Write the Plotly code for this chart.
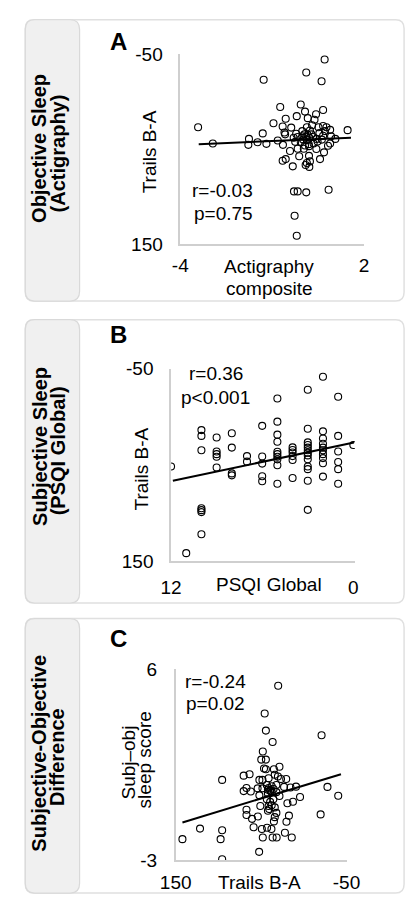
import plotly.graph_objects as go

W, H = 419, 909

# ---------------- DATA ----------------
# Panel A: Actigraphy composite vs Trails B-A
a_x = [0.71, 0.11, 0.61, -1.28, -0.07, -0.74, 0.07, 0.66, -0.20, 0.43, -0.56, 0.16, 0.38, -0.96, 0.30,
       -0.66, -0.38, 0.13, 0.51, 0.66, 0.77, 0.89, -3.42, 1.46, -1.31, -0.60, -0.02, 0.23, 0.54, 0.72,
       -0.58, -0.22, 0.05, 0.16, 0.28, -0.17, -0.02, 0.11, 0.21, 0.33, -0.30, 0.01, 0.13, 0.45, 0.66,
       0.92, 1.06, -0.82, -1.76, -1.48, -2.94, -1.78, -1.19, -0.65, 0.19, 0.48, 0.82, 0.89, -0.17, 0.03,
       0.44, -0.42, 0.69, 0.20, -0.12, 0.20, -0.66, -0.56, 0.56, 0.13, 0.23, -0.33, 0.21, 0.09, -0.29,
       -0.17, 0.11, 0.84, -0.27, -0.20, -0.07, -0.25, 0.35, 0.07, 0.62]
a_y = [-44.2, -30.5, -21.3, -23.0, 3.0, 5.7, 10.5, 8.8, 15.3, 13.3, 18.0, 17.4, 19.1, 22.8, 24.9,
       26.2, 27.3, 26.9, 26.9, 25.6, 26.9, 29.7, 26.9, 30.0, 33.4, 32.4, 31.0, 30.3, 33.1, 31.0,
       34.4, 33.8, 34.4, 35.1, 34.4, 37.2, 36.5, 37.2, 37.9, 37.2, 37.9, 39.9, 40.6, 39.2, 35.8,
       36.5, 39.2, 40.9, 39.2, 42.7, 44.0, 45.4, 44.4, 45.4, 44.7, 42.0, 46.4, 44.0, 49.5, 49.5,
       49.8, 51.9, 53.3, 46.8, 57.4, 57.0, 62.1, 60.4, 60.4, 64.5, 62.8, 68.0, 68.6, 66.6, 94.3,
       94.3, 95.3, 92.6, 119.9, 140.8, 42.3, 42.3, 44.0, 46.1, 39.9]
a_fit_x = [-3.40, 1.57]
a_fit_y = [44.7, 37.9]

# Panel B: PSQI Global vs Trails B-A
b_x = [12, 11,
       10, 10, 10, 10, 10, 10, 10,
       9, 9, 9, 9, 9,
       8, 8, 8, 8,
       7, 7,
       6, 6, 6, 6, 6,
       5, 5, 5, 5, 5, 5, 5, 5, 5, 5,
       4, 4, 4, 4, 4, 4,
       3, 3, 3, 3, 3, 3, 3, 3, 3, 3, 3, 3, 3,
       2, 2, 2, 2, 2, 2, 2, 2, 2, 2,
       1, 1, 1, 1, 1, 1,
       0]
b_y = [51.9, 141.9,
       14.0, 20.0, 34.9, 95.2, 97.2, 99.2, 122.2,
       21.7, 36.3, 39.0, 41.7, 52.9,
       17.3, 32.2, 59.0, 61.0,
       41.0, 46.8,
       9.6, 41.4, 48.8, 62.0, 67.1,
       -18.9, 5.2, 18.7, 26.1, 36.5, 39.0, 41.7, 44.4, 50.5, 69.8,
       31.9, 34.6, 37.3, 41.0, 45.1, 63.7,
       -28.0, 12.6, 26.8, 29.5, 32.2, 34.9, 37.6, 40.3, 44.4, 51.9, 54.6, 66.7, 96.9,
       -41.5, 15.3, 22.8, 28.2, 32.2, 34.9, 39.0, 43.1, 48.5, 62.3,
       -20.6, 20.0, 36.3, 47.1, 54.6, 69.8,
       29.5]
b_fit_x = [11.88, -0.04]
b_fit_y = [66.7, 26.8]

# Panel C: Trails B-A vs Subj-obj sleep score
c_x = [30.0, 45.8, 44.4, 36.5, -20.8, 48.0, 49.8, 44.4, 46.6, 44.4, 35.0, 28.5, 95.6, 70.4, 63.5,
       52.0, 48.4, 41.2, 34.0, 30.3, 26.7, 20.6, 67.1, 70.4, 62.1, 54.1, 48.4, 43.3, 41.2, 37.6,
       42.0, 39.4, 35.4, 32.1, 23.1, 15.6, 9.1, -27.7, -40.3, 52.0, 42.0, 37.6, 28.5, 32.1, 4.4,
       19.2, 12.7, 50.9, 39.4, 41.2, 37.6, 40.5, 34.0, 42.0, 67.1, 67.1, 60.6, 53.8, 32.1, 34.0,
       35.0, 17.4, 20.3, -19.7, 58.8, 49.1, 43.0, 37.9, 22.1, 121.5, 95.6, 142.1, 97.4, 48.0, 36.5,
       31.8, 14.1, 52.3, 95.6, 39.0, 43.3, 35.7]
c_y = [5.23, 3.92, 3.11, 2.57, 2.89, 2.12, 1.74, 1.74, 1.32, 1.28, 1.28, 1.40, 0.78, 0.98, 1.05,
       0.78, 0.78, 0.86, 1.02, 0.94, 0.82, 0.82, 0.40, 0.25, 0.23, 0.38, 0.38, 0.54, 0.40, 0.48,
       0.32, 0.29, 0.35, 0.54, 0.45, 0.42, 0.46, 0.45, 0.03, 0.05, 0.14, 0.20, 0.02, 0.20, -0.03,
       -0.32, -0.25, -0.45, -0.26, -0.45, -0.42, -0.60, -0.52, -0.68, -0.63, -0.88, -1.06, -0.95, -0.78, -0.98,
       -1.18, -0.91, -1.20, -0.85, -1.46, -1.54, -1.48, -1.54, -1.72, -1.52, -1.60, -2.02, -2.02, -1.94, -1.94,
       -1.94, -1.94, -2.62, -2.97, 0.25, -0.14, -0.14]
c_fit_x = [142.1, -43.5]
c_fit_y = [-1.23, 1.05]

a_xticks, a_xtext = [-4, 2], ["-4", "2"]
a_yticks, a_ytext = [-50, 150], ["-50", "150"]
b_xticks, b_xtext = [12, 0], ["12", "0"]
b_yticks, b_ytext = [-50, 150], ["-50", "150"]
c_xticks, c_xtext = [150, -50], ["150", "-50"]
c_yticks, c_ytext = [6, -3], ["6", "-3"]

# ---------------- LAYOUT HELPERS ----------------
def PX(x):
    return x / W

def PY(y):
    return 1 - y / H

FONT = "Arial, 'Liberation Sans', sans-serif"

fig = go.Figure()
marker = dict(symbol="circle-open", size=7, color="black", line=dict(width=1.1))

series = [
    (a_x, a_y, a_fit_x, a_fit_y),
    (b_x, b_y, b_fit_x, b_fit_y),
    (c_x, c_y, c_fit_x, c_fit_y),
]
for i, (xs, ys, fx, fy) in enumerate(series):
    sfx = "" if i == 0 else str(i + 1)
    fig.add_trace(go.Scatter(x=xs, y=ys, mode="markers", marker=marker,
                             xaxis="x" + sfx, yaxis="y" + sfx,
                             showlegend=False, hoverinfo="skip"))
    fig.add_trace(go.Scatter(x=fx, y=fy, mode="lines",
                             line=dict(color="black", width=2),
                             xaxis="x" + sfx, yaxis="y" + sfx,
                             showlegend=False, hoverinfo="skip"))

AXCOL = "#cfcfcf"
def xaxis(dom, rng, tv, tt, anchor, standoff):
    return dict(domain=[PX(dom[0]), PX(dom[1])], range=rng, tickvals=tv, ticktext=tt,
                anchor=anchor, showline=True, linecolor=AXCOL, linewidth=1.5,
                showgrid=False, zeroline=False, ticks="", ticklabelstandoff=standoff,
                tickfont=dict(family=FONT, size=19, color="black"), fixedrange=True)

def yaxis(dom, rng, tv, tt, anchor, standoff):
    return dict(domain=[PY(dom[1]), PY(dom[0])], range=rng, tickvals=tv, ticktext=tt,
                anchor=anchor, showline=True, linecolor=AXCOL, linewidth=1.5,
                showgrid=False, zeroline=False, ticks="", ticklabelstandoff=standoff,
                tickfont=dict(family=FONT, size=19, color="black"), fixedrange=True)

layout_axes = dict(
    xaxis=xaxis((177, 375), [-4, 2], a_xticks, a_xtext, "y", 3),
    yaxis=yaxis((45, 240), [150, -50], a_yticks, a_ytext, "x", 12),
    xaxis2=xaxis((167, 365), [12, -0.1], b_xticks, b_xtext, "y2", 8),
    yaxis2=yaxis((367, 564), [150, -50], b_yticks, b_ytext, "x2", 12),
    xaxis3=xaxis((172, 356), [150, -50], c_xticks, c_xtext, "y3", 5),
    yaxis3=yaxis((675, 870), [-3, 6], c_yticks, c_ytext, "x3", 13),
)

# frames
def rrect(x0, y0, x1, y1, r):
    rx, ry = r / W, r / H
    X0, X1, Y0, Y1 = PX(x0), PX(x1), PY(y0), PY(y1)
    return (f"M {X0+rx},{Y0} L {X1-rx},{Y0} Q {X1},{Y0} {X1},{Y0-ry} "
            f"L {X1},{Y1+ry} Q {X1},{Y1} {X1-rx},{Y1} L {X0+rx},{Y1} "
            f"Q {X0},{Y1} {X0},{Y1+ry} L {X0},{Y0-ry} Q {X0},{Y0} {X0+rx},{Y0} Z")

shapes = []
for (t, b) in [(10, 298), (317, 607), (623, 904)]:
    shapes.append(dict(type="path", path=rrect(10, t, 418, b, 9), xref="paper", yref="paper",
                       line=dict(color="#e0e0e0", width=1.5), fillcolor="rgba(0,0,0,0)", layer="below"))
    shapes.append(dict(type="path", path=rrect(10, t, 68.5, b, 10), xref="paper", yref="paper",
                       line=dict(color="#d9d9d9", width=1.2), fillcolor="#f0f0f0", layer="below"))

annots = []
def ann(text, x, y, size=19, bold=False, angle=0):
    annots.append(dict(text=f"<b>{text}</b>" if bold else text, x=PX(x), y=PY(y),
                       xref="paper", yref="paper", xanchor="center", yanchor="middle",
                       showarrow=False, textangle=angle,
                       font=dict(family=FONT, size=size, color="black")))

# Panel A
ann("A", 110, 32, size=24, bold=True)
ann("r=-0.03", 222, 185)
ann("p=0.75", 223, 208)
ann("Trails B-A", 144, 145, angle=-90)
ann("Actigraphy", 273, 263)
ann("composite", 273, 285)
ann("Objective Sleep", 25, 142, size=20, bold=True, angle=-90)
ann("(Actigraphy)", 45, 147, size=20, bold=True, angle=-90)
# Panel B
ann("B", 110, 332, size=24, bold=True)
ann("r=0.36", 215, 372)
ann("p<0.001", 215, 397)
ann("Trails B-A", 135, 470, angle=-90)
ann("PSQI Global", 272, 588)
ann("Subjective Sleep", 25, 447, size=20, bold=True, angle=-90)
ann("(PSQI Global)", 45, 451, size=20, bold=True, angle=-90)
# Panel C
ann("C", 110, 643, size=24, bold=True)
ann("r=-0.24", 215, 687)
ann("p=0.02", 215, 710)
ann("Subj–obj", 121, 770, angle=-90)
ann("sleep score", 138, 768, angle=-90)
ann("Trails B-A", 262, 893)
ann("Subjective-Objective", 25, 761, size=20, bold=True, angle=-90)
ann("Difference", 45, 765, size=20, bold=True, angle=-90)

fig.update_layout(
    width=W, height=H, margin=dict(l=0, r=0, t=0, b=0),
    paper_bgcolor="white", plot_bgcolor="rgba(0,0,0,0)",
    showlegend=False, shapes=shapes, annotations=annots,
    font=dict(family=FONT, color="black"),
    **layout_axes,
)

fig.write_html("out.html", config={"displayModeBar": False})
